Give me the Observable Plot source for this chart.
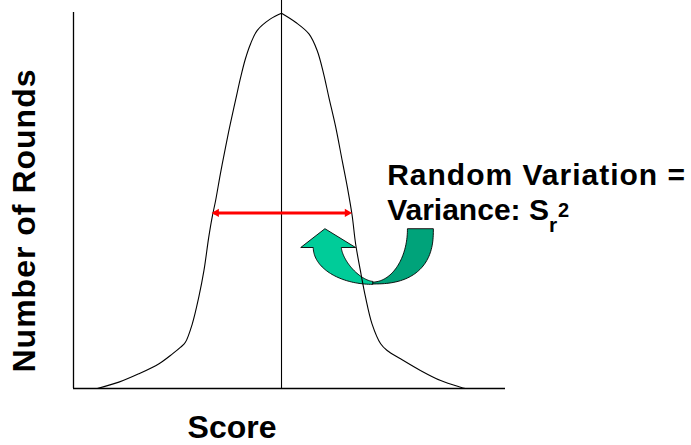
<!DOCTYPE html>
<html>
<head>
<meta charset="utf-8">
<script src="https://cdn.jsdelivr.net/npm/d3@7"></script>
<script src="https://cdn.jsdelivr.net/npm/@observablehq/plot@0.6"></script>
<style>
  body { margin: 0; background: #fff; }
</style>
</head>
<body>
<div id="chart"></div>
<script>
// Distribution of scores: score (x) and number of rounds (y), in relative units
const curveScore = [5.5, 10.5, 15.1, 19.8, 22.9, 24.8, 25.9, 27.5, 29.0, 30.2, 31.3, 32.1, 32.9, 34.0, 35.2, 36.3, 37.5, 38.7, 39.8, 41.0, 42.5, 45.6,
  48.15,
  51.4, 54.5, 56.4, 57.9, 59.1, 60.7, 62.2, 63.4, 64.5, 65.3, 66.4, 67.6, 69.1, 71.1, 72.6, 75.7, 80.3, 85.0, 89.6, 90.7];
const curveRounds = [0, 1.7, 3.9, 6.6, 9.2, 11.0, 12.3, 17.2, 24.3, 31.4, 40.2, 45.6, 50.0, 57.1, 64.2, 70.4, 76.6, 82.8, 87.7, 91.7, 95.2, 98.3,
  99.8,
  97.4, 94.3, 89.9, 83.7, 77.5, 69.5, 60.6, 53.5, 46.0, 38.5, 31.4, 24.3, 17.2, 11.9, 10.1, 7.9, 4.8, 2.1, 0.35, 0];

// Mean score (vertical line) and the spread shown by the red double arrow
const meanScore = 48.15;
const spreadFrom = 31.7;
const spreadTo = 64.75;
const spreadLevel = 46.7;

// Curved "U-turn" arrow: back band (dark) and front band (light) with its head
const backBand = {cx: 69.2, cy: 42.4, outer: [14.1, 14.6, 0.8], inner: [8.1, 14.1, 1]};
const frontBand = {cx: 69.2, cy: 37.5, outer: [13.7, 9.8, 1], inner: [7.2, 9.0, 1.3]};
const headScore = [52.6, 58.2, 65.3];
const headRounds = [37.5, 42.5, 37.5];

// Text
const yLabel = "Number of Rounds";
const xLabel = "Score";
const noteLine1 = "Random Variation =";
const noteLine2 = "Variance: S";
const noteSub = "r";
const noteSup = "2";
const noteScore = 72.6;
const noteRounds = [54.0, 44.7];

// The peak is shared by both flanks so it stays a sharp point
const peakIndex = curveRounds.indexOf(d3.max(curveRounds));
const curve = curveScore.flatMap((s, i) => {
  const rows = [];
  if (i <= peakIndex) rows.push({score: s, rounds: curveRounds[i], side: "rise"});
  if (i >= peakIndex) rows.push({score: s, rounds: curveRounds[i], side: "fall"});
  return rows;
});

// Points along a quarter of a (super)ellipse; angle 0 = right, 90 = bottom, 180 = left
function arcPoints(cx, cy, [rx, ry, e], from, to, n = 48) {
  const pts = [];
  for (let k = 0; k <= n; k++) {
    const t = (from + (to - from) * k / n) * Math.PI / 180;
    const c = Math.cos(t), s = Math.sin(t);
    pts.push({score: cx + rx * Math.sign(c) * Math.abs(c) ** e, rounds: cy - ry * Math.abs(s) ** e});
  }
  return pts;
}

const backShape = [
  ...arcPoints(backBand.cx, backBand.cy, backBand.outer, 0, 90),
  ...arcPoints(backBand.cx, backBand.cy, backBand.inner, 90, 0)
];
const frontShape = [
  ...arcPoints(frontBand.cx, frontBand.cy, frontBand.outer, 90, 180),
  ...headScore.map((s, i) => ({score: s, rounds: headRounds[i]})),
  ...arcPoints(frontBand.cx, frontBand.cy, frontBand.inner, 180, 90)
];

const font = "'Liberation Sans', Arial, Helvetica, sans-serif";

const chart = Plot.plot({
  width: 691,
  height: 445,
  marginLeft: 73,
  marginRight: 186,
  marginTop: 12,
  marginBottom: 57,
  x: {domain: [0, 100], axis: null},
  y: {domain: [0, 100], axis: null},
  style: {background: "#fff", fontFamily: font},
  marks: [
    Plot.line(backShape, {x: "score", y: "rounds", curve: "linear-closed", fill: "#00a37a", stroke: "#000", strokeWidth: 0.9}),
    Plot.line(frontShape, {x: "score", y: "rounds", curve: "linear-closed", fill: "#00cc99", stroke: "#000", strokeWidth: 0.9}),
    Plot.line(curve, {x: "score", y: "rounds", z: "side", curve: "catmull-rom", stroke: "#000", strokeWidth: 1.1}),
    Plot.ruleX([meanScore], {stroke: "#000", strokeWidth: 1.1, insetTop: -12}),
    Plot.ruleX([0], {stroke: "#000", strokeWidth: 1.3}),
    Plot.ruleY([0], {stroke: "#000", strokeWidth: 1.3}),
    Plot.ruleY([spreadLevel], {x1: spreadFrom + 1, x2: spreadTo - 1, stroke: "#ff0000", strokeWidth: 3}),
    Plot.dot([spreadFrom], {x: d => d, y: spreadLevel, symbol: "triangle2", r: 4, rotate: -90, dx: 6, fill: "#ff0000", stroke: "none"}),
    Plot.dot([spreadTo], {x: d => d, y: spreadLevel, symbol: "triangle2", r: 4, rotate: 90, dx: -6, fill: "#ff0000", stroke: "none"}),
    Plot.text([noteLine1, noteLine2], {x: noteScore, y: (d, i) => noteRounds[i], text: d => d, textAnchor: "start", lineAnchor: "bottom", fontSize: 30, fontWeight: "bold", fill: "#000"}),
    Plot.text([yLabel], {frameAnchor: "left", text: d => d, rotate: -90, dx: -49, dy: 20, textAnchor: "middle", lineAnchor: "middle", fontSize: 32, fontWeight: "bold", fill: "#000"}),
    Plot.text([xLabel], {x: 36.7, frameAnchor: "bottom", text: d => d, dy: 49, textAnchor: "middle", lineAnchor: "bottom", fontSize: 32, fontWeight: "bold", fill: "#000"})
  ]
});

// Letter spacing on the wider labels
d3.select(chart).selectAll("text")
  .filter(function () { return this.textContent === yLabel; })
  .attr("letter-spacing", 1);
d3.select(chart).selectAll("text")
  .filter(function () { return this.textContent === noteLine1; })
  .attr("letter-spacing", 1);

// Subscript and superscript on the variance symbol
d3.select(chart).selectAll("text")
  .filter(function () { return this.textContent === noteLine2; })
  .each(function () {
    const t = d3.select(this);
    t.append("tspan").attr("font-size", 21).attr("dy", 12).attr("dx", 0).text(noteSub);
    t.append("tspan").attr("font-size", 20).attr("dy", -15).attr("dx", 1).text(noteSup);
  });

document.getElementById("chart").append(chart);
</script>
</body>
</html>
